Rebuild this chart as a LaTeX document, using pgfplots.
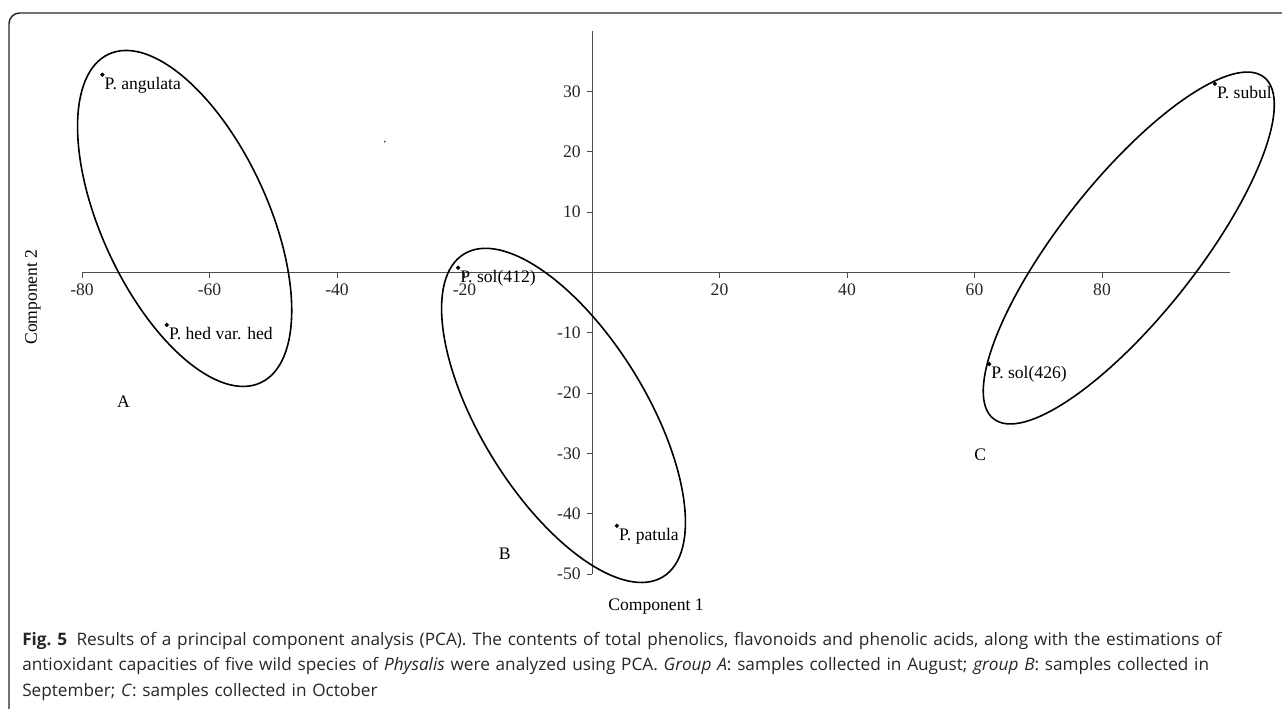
\documentclass[border=0pt]{standalone}
\usepackage{pgfplots}
\pgfplotsset{compat=1.18}
\usepackage{fontspec}
\setmainfont{Liberation Serif}
\newfontfamily\capfont{Open Sans}
\begin{document}
\begin{tikzpicture}[x=0.75pt,y=0.75pt]
\useasboundingbox (0,0) rectangle (1282,709);
\clip (0,0) rectangle (1282,709);
\draw[line width=1.1pt, black!85, rounded corners=8pt] (9,696) rectangle (1310,-30);
\begin{axis}[
  at={(61.5pt,101.25pt)}, anchor=south west,
  x=4.78125pt, y=4.5225pt,
  xmin=-80, xmax=100, ymin=-50, ymax=40,
  enlargelimits=false,
  axis lines=middle,
  axis line style={-, draw=black!70, line width=0.7pt},
  clip=false,
  xtick={-80,-60,-40,-20,20,40,60,80},
  xticklabels={-80,-60,-40,-20,20,40,60,80},
  ytick={-50,-40,-30,-20,-10,10,20,30},
  yticklabels={-50,-40,-30,-20,-10,10,20,30},
  tick align=outside,
  major tick length=4pt,
  tick style={black!70, line width=0.7pt},
  tick label style={font=\fontsize{13.2pt}{15pt}\selectfont, text=black!85},
  x tick label style={yshift=-1pt},
  y tick label style={xshift=-1pt},
]
\addplot[only marks, mark=*, mark size=1.4pt, black,
  nodes near coords, point meta=explicit symbolic,
  nodes near coords style={anchor=base west, inner sep=0pt, xshift=1.5pt, yshift=-11pt,
    font=\fontsize{13.2pt}{15pt}\selectfont, text=black}]
  coordinates {
  (-76.8,32.8) [P. angulata]
  (-66.7,-8.7) [P. hed var. hed]
  (-21.0,0.8) [{P. sol(412)}]
  (3.9,-42.0) [P. patula]
  (97.7,31.3) [P. subul]
  (62.3,-15.2) [{P. sol(426)}]
  };
\addplot[only marks, mark=*, mark size=0.5pt, black!70] coordinates {(-32.5,21.7)};
\draw[line width=1.2pt, rotate around={114.8:(axis cs:-63.9,8.96)}] (axis cs:-63.9,8.96) ellipse [x radius=135.75pt, y radius=62.4pt];
\draw[line width=1.2pt, rotate around={121.7:(axis cs:-4.47,-23.7)}] (axis cs:-4.47,-23.7) ellipse [x radius=142.2pt, y radius=61.95pt];
\draw[line width=1.2pt, rotate around={51.6:(axis cs:84.2,4.06)}] (axis cs:84.2,4.06) ellipse [x radius=163.4pt, y radius=51.15pt];
\node[font=\fontsize{13.2pt}{15pt}\selectfont] at (axis cs:-73.5,-21.4) {A};
\node[font=\fontsize{13.2pt}{15pt}\selectfont] at (axis cs:-13.7,-46.6) {B};
\node[font=\fontsize{13.2pt}{15pt}\selectfont] at (axis cs:60.9,-30.2) {C};
\end{axis}
\node[font=\fontsize{13.2pt}{15pt}\selectfont] at (656,102) {Component 1};
\node[font=\fontsize{13.2pt}{15pt}\selectfont, rotate=90] at (33,412) {Component 2};
\node[anchor=north west, inner sep=0pt, text width=950pt, align=left,
  font=\capfont\fontsize{12.9pt}{19.1pt}\selectfont, text=black!85] at (22,77)
  {\textbf{Fig.~5}\hspace{0.55em}Results of a principal component analysis (PCA). The contents of total phenolics, flavonoids and phenolic acids, along with the estimations of\\ antioxidant capacities of five wild species of \textit{Physalis} were analyzed using PCA. \textit{Group A}: samples collected in August; \textit{group B}: samples collected in\\ September; \textit{C}: samples collected in October\par};
\end{tikzpicture}
\end{document}
